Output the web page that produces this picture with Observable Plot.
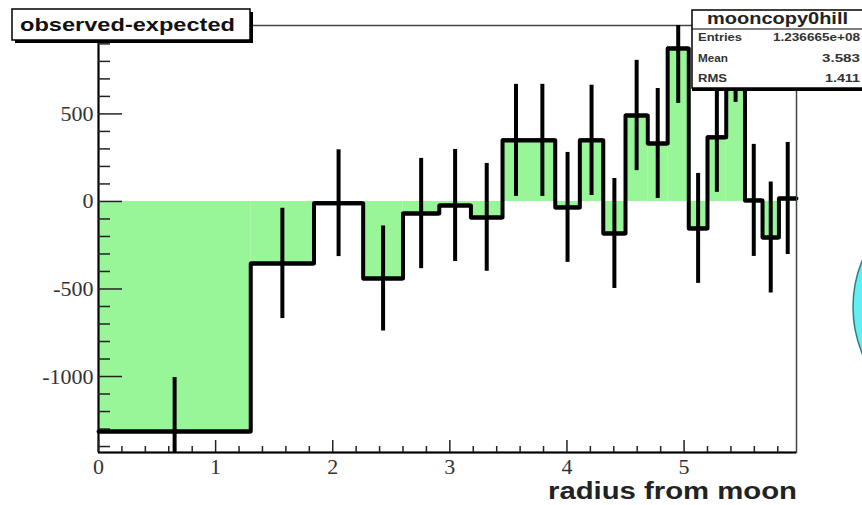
<!DOCTYPE html>
<html>
<head>
<meta charset="utf-8">
<script src="https://cdn.jsdelivr.net/npm/d3@7"></script>
<script src="https://cdn.jsdelivr.net/npm/@observablehq/plot@0.6"></script>
<style>
  html, body { margin: 0; padding: 0; background: #fff; }
  #chart { width: 862px; height: 505px; overflow: hidden; }
</style>
</head>
<body>
<div id="chart"></div>
<script>
// Radial bin edges (equal-area annuli around the moon)
const binEdges = [0, 1.30, 1.84, 2.26, 2.60, 2.91, 3.18, 3.45, 3.68, 3.90, 4.11,
                  4.31, 4.50, 4.69, 4.86, 5.04, 5.20, 5.36, 5.52, 5.67, 5.81, 5.96];
// observed - expected counts per bin
const binValues = [-1314, -354, -10, -440, -69, -23, -91, 349, 349, -34, 349,
                   -183, 491, 331, 874, -154, 366, 891, 6, -206, 17];
// statistical error per bin
const binErrors = [308, 315, 305, 300, 315, 320, 308, 320, 320, 314, 315,
                   314, 315, 314, 314, 314, 314, 325, 320, 317, 320];

const xTicks = [0, 1, 2, 3, 4, 5];
const yTicks = [-1000, -500, 0, 500];
const xDomain = [0, 5.96];
const yDomain = [-1434, 1005];

const statsTitle = "mooncopy0hill";
const statsRows = [
  {name: "Entries", value: "1.236665e+08"},
  {name: "Mean", value: "3.583"},
  {name: "RMS", value: "1.411"}
];

const bins = binValues.map((v, i) => ({
  lo: binEdges[i], hi: binEdges[i + 1], c: (binEdges[i] + binEdges[i + 1]) / 2,
  v, e: binErrors[i]
}));
const outline = bins.map(b => ({x: b.lo, y: b.v}))
  .concat([{x: bins[bins.length - 1].hi, y: bins[bins.length - 1].v}]);

const W = 862, H = 505;
const mL = 98, mR = 66, mT = 25, mB = 53;
const FW = W - mL - mR, FH = H - mT - mB;

const xMinor = d3.range(0.2, 5.95, 0.2).filter(t => Math.abs(t - Math.round(t)) > 1e-6);
const yMinor = d3.range(-1400, 1001, 100).filter(t => t % 500 !== 0);

const serif = "'Liberation Serif', 'DejaVu Serif', serif";
const sans = "'Liberation Sans', Arial, sans-serif";

const plot = Plot.plot({
  width: W, height: H,
  marginLeft: mL, marginRight: mR, marginTop: mT, marginBottom: mB,
  x: {domain: xDomain},
  y: {domain: yDomain},
  style: {background: "white", overflow: "visible"},
  marks: [
    // filled histogram
    Plot.rectY(bins, {x1: "lo", x2: "hi", y1: 0, y2: "v", fill: "#98f598"}),
    // histogram outline
    Plot.line(outline, {x: "x", y: "y", curve: "step-after", stroke: "black", strokeWidth: 4}),
    // pad frame
    Plot.frame({stroke: "#444", strokeWidth: 1.5}),
    Plot.ruleX([xDomain[0]], {stroke: "black", strokeWidth: 2}),
    Plot.ruleY([yDomain[0]], {stroke: "black", strokeWidth: 2}),
    // inward ticks
    Plot.ruleX(xMinor, {insetTop: FH - 6, stroke: "#222", strokeWidth: 1.5}),
    Plot.ruleX(xTicks, {insetTop: FH - 12, stroke: "#222", strokeWidth: 1.5}),
    Plot.ruleY(yMinor, {insetRight: FW - 12, stroke: "#222", strokeWidth: 1.5}),
    Plot.ruleY(yTicks, {insetRight: FW - 24, stroke: "#222", strokeWidth: 1.5}),
    Plot.axisX(xTicks, {tickSize: 0, tickPadding: 6, fontSize: 22, fontFamily: serif,
                        fill: "#333", label: null, tickFormat: d => String(d)}),
    Plot.axisY(yTicks, {tickSize: 0, tickPadding: 5, fontSize: 22, fontFamily: serif,
                        fill: "#333", label: null, tickFormat: d => String(d)}),
    // error crosses
    Plot.ruleX(bins, {x: "c", y1: d => d.v - d.e, y2: d => d.v + d.e,
                      stroke: "black", strokeWidth: 4, clip: true, ariaLabel: "error bars"}),
    Plot.ruleY(bins, {y: "v", x1: "lo", x2: "hi",
                      stroke: "black", strokeWidth: 4, clip: true, ariaLabel: "error widths"})
  ]
});

const svg = d3.select(plot);

// statistics box, drawn between the filled histogram and the error crosses
const errNode = svg.select('g[aria-label="error bars"]').node();
const stats = svg.insert("g", () => errNode)
  .attr("font-family", sans).attr("font-weight", "bold").attr("text-anchor", "start");
stats.append("rect").attr("x", 692).attr("y", 12).attr("width", 180).attr("height", 79).attr("fill", "black");
stats.append("rect").attr("x", 692).attr("y", 10).attr("width", 180).attr("height", 78)
  .attr("fill", "white").attr("stroke", "black").attr("stroke-width", 1.5);
stats.append("line").attr("x1", 692).attr("x2", 872).attr("y1", 29).attr("y2", 29)
  .attr("stroke", "black").attr("stroke-width", 1.2);
stats.append("text").attr("x", 707).attr("y", 24).attr("font-size", 16).attr("fill", "#222")
  .attr("textLength", 141).attr("lengthAdjust", "spacingAndGlyphs").text(statsTitle);
const rowY = [41, 62, 82];
const nameLen = [44, 30, 29];
const valueLen = [87, 38, 35];
statsRows.forEach((r, i) => {
  stats.append("text").attr("x", 698).attr("y", rowY[i]).attr("font-size", 10).attr("fill", "#333")
    .attr("textLength", nameLen[i]).attr("lengthAdjust", "spacingAndGlyphs").text(r.name);
  stats.append("text").attr("x", 860).attr("y", rowY[i]).attr("font-size", 10).attr("fill", "#333")
    .attr("text-anchor", "end")
    .attr("textLength", valueLen[i]).attr("lengthAdjust", "spacingAndGlyphs").text(r.value);
});

// histogram title box
const title = svg.append("g")
  .attr("font-family", sans).attr("font-weight", "bold").attr("text-anchor", "start");
title.append("rect").attr("x", 15).attr("y", 12).attr("width", 238).attr("height", 31).attr("fill", "black");
title.append("rect").attr("x", 12).attr("y", 9).attr("width", 238).attr("height", 31)
  .attr("fill", "white").attr("stroke", "black").attr("stroke-width", 1.5);
title.append("text").attr("x", 20).attr("y", 31).attr("font-size", 19).attr("fill", "#111")
  .attr("textLength", 215).attr("lengthAdjust", "spacingAndGlyphs").text("observed-expected");

// x-axis title
svg.append("text").attr("x", 797).attr("y", 499).attr("text-anchor", "end")
  .attr("font-family", sans).attr("font-weight", "bold").attr("font-size", 23).attr("fill", "#222")
  .attr("textLength", 249).attr("lengthAdjust", "spacingAndGlyphs").text("radius from moon");

// neighbouring pad element at the right edge
svg.append("circle").attr("cx", 975).attr("cy", 307).attr("r", 122)
  .attr("fill", "#63eef2").attr("stroke", "#2f7f80").attr("stroke-width", 1.5);

document.getElementById("chart").appendChild(plot);
</script>
</body>
</html>
